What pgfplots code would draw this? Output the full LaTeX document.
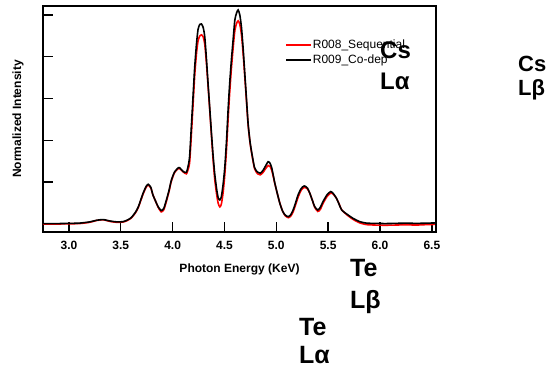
\documentclass[border=0pt]{standalone}
\usepackage{pgfplots}
\pgfplotsset{compat=1.18}
\usepackage{fontspec}
\setmainfont{Liberation Sans}
\pgfplotstableread{
x y
2.75 0.002
2.9 0.002
3.0 0.003
3.1 0.004
3.2 0.010
3.27 0.018
3.33 0.021
3.4 0.014
3.46 0.010
3.52 0.011
3.56 0.018
3.60 0.030
3.64 0.055
3.67 0.083
3.715 0.147
3.745 0.180
3.765 0.190
3.79 0.175
3.81 0.139
3.835 0.110
3.86 0.083
3.89 0.064
3.915 0.075
3.94 0.115
3.965 0.160
3.988 0.210
4.02 0.250
4.062 0.270
4.1 0.252
4.133 0.247
4.155 0.290
4.165 0.330
4.18 0.460
4.197 0.610
4.213 0.750
4.23 0.860
4.245 0.930
4.262 0.955
4.278 0.957
4.295 0.940
4.31 0.895
4.326 0.790
4.342 0.670
4.36 0.540
4.375 0.430
4.39 0.330
4.406 0.240
4.425 0.165
4.44 0.125
4.455 0.115
4.47 0.130
4.487 0.190
4.503 0.270
4.52 0.400
4.535 0.545
4.55 0.670
4.567 0.785
4.585 0.890
4.6 0.976
4.617 1.010
4.632 1.024
4.648 1.000
4.664 0.940
4.68 0.840
4.696 0.720
4.712 0.600
4.728 0.480
4.745 0.400
4.76 0.350
4.79 0.270
4.82 0.248
4.845 0.243
4.87 0.255
4.89 0.272
4.921 0.298
4.94 0.290
4.955 0.270
4.97 0.235
4.986 0.195
5.01 0.145
5.034 0.099
5.06 0.062
5.085 0.043
5.115 0.035
5.14 0.045
5.162 0.067
5.185 0.100
5.21 0.139
5.24 0.170
5.27 0.182
5.30 0.172
5.323 0.147
5.35 0.110
5.37 0.083
5.40 0.067
5.425 0.080
5.45 0.107
5.49 0.140
5.525 0.155
5.55 0.145
5.58 0.123
5.605 0.095
5.63 0.067
5.678 0.048
5.74 0.027
5.806 0.011
5.87 0.004
5.95 0.003
6.05 0.002
6.15 0.003
6.25 0.004
6.35 0.003
6.45 0.004
6.53 0.005
}\blackdata
\pgfplotstableread{
x y
2.75 0.000
2.9 0.000
3.0 0.001
3.1 0.002
3.2 0.008
3.27 0.017
3.33 0.020
3.4 0.012
3.46 0.008
3.52 0.009
3.56 0.016
3.60 0.028
3.64 0.052
3.67 0.080
3.715 0.143
3.745 0.176
3.765 0.186
3.79 0.172
3.81 0.139
3.835 0.110
3.86 0.080
3.89 0.058
3.915 0.068
3.94 0.108
3.965 0.155
3.988 0.205
4.02 0.247
4.062 0.267
4.1 0.250
4.133 0.240
4.155 0.270
4.165 0.300
4.18 0.420
4.197 0.570
4.213 0.710
4.23 0.815
4.245 0.875
4.262 0.900
4.278 0.905
4.295 0.895
4.31 0.860
4.326 0.770
4.342 0.660
4.36 0.530
4.375 0.420
4.39 0.310
4.406 0.215
4.425 0.140
4.44 0.098
4.455 0.082
4.47 0.095
4.487 0.150
4.503 0.235
4.52 0.360
4.535 0.500
4.55 0.625
4.567 0.745
4.585 0.850
4.6 0.925
4.617 0.960
4.632 0.972
4.648 0.955
4.664 0.905
4.68 0.815
4.696 0.705
4.712 0.590
4.728 0.475
4.745 0.395
4.76 0.345
4.79 0.265
4.82 0.240
4.845 0.235
4.87 0.245
4.89 0.260
4.921 0.280
4.94 0.275
4.955 0.258
4.97 0.228
4.986 0.192
5.01 0.145
5.034 0.100
5.06 0.062
5.085 0.040
5.115 0.030
5.14 0.038
5.162 0.058
5.185 0.090
5.21 0.128
5.24 0.162
5.27 0.175
5.30 0.168
5.323 0.147
5.35 0.110
5.37 0.080
5.40 0.060
5.425 0.070
5.45 0.098
5.49 0.132
5.525 0.148
5.55 0.142
5.58 0.123
5.605 0.097
5.63 0.068
5.678 0.045
5.74 0.022
5.806 0.005
5.87 -0.003
5.95 -0.005
6.05 -0.006
6.15 -0.005
6.25 -0.004
6.35 -0.005
6.45 -0.003
6.53 -0.002
}\reddata
\begin{document}
\begin{tikzpicture}
\begin{axis}[
  scale only axis,
  width=393pt, height=226pt,
  xmin=2.75, xmax=6.54,
  ymin=-0.0383, ymax=1.043,
  clip=false,
  axis line style={line width=1.6pt},
  xtick={3.0,3.5,4.0,4.5,5.0,5.5,6.0,6.5},
  ytick={0,0.2,0.4,0.6,0.8,1.0},
  yticklabels={},
  xtick pos=bottom, ytick pos=left,
  tick align=inside,
  major tick length=10pt,
  tick style={line width=1.4pt, black},
  /pgf/number format/assume math mode=true,
  xticklabel={\pgfmathprintnumber[fixed,fixed zerofill,precision=1]{\tick}},
  xticklabel style={font=\bfseries\fontsize{12}{13}\selectfont, yshift=-6pt},
  xlabel={Photon Energy (KeV)},
  ylabel={Normalized Intensity},
  xlabel style={font=\bfseries\fontsize{12}{14}\selectfont, yshift=-7pt},
  ylabel style={font=\bfseries\fontsize{12}{14}\selectfont, yshift=9pt},
  legend style={draw=none, fill=none, at={(0.616,0.855)}, anchor=north west,
    font=\fontsize{12}{13}\selectfont, row sep=2.5pt, inner sep=0pt,
    nodes={inner sep=1pt}},
  legend cell align=left,
  legend image code/.code={\draw[#1] (0pt,0pt) -- (25pt,0pt);},
]
\addplot[red, line width=1.6pt, smooth, tension=0.4] table {\reddata};
\addlegendentry{R008\_Sequential}
\addplot[black, line width=1.6pt, smooth, tension=0.4] table {\blackdata};
\addlegendentry{R009\_Co-dep}
\path (rel axis cs:-0.1094,-0.6018) rectangle (rel axis cs:1.2926,1.0265);
\node[anchor=base west, inner sep=0pt, font=\bfseries\fontsize{24}{30}\selectfont] at (rel axis cs:0.8575,0.7655) {Cs};
\node[anchor=base west, inner sep=0pt, font=\bfseries\fontsize{24}{30}\selectfont] at (rel axis cs:0.8575,0.6283) {Lα};
\node[anchor=base west, inner sep=0pt, font=\bfseries\fontsize{22}{30}\selectfont] at (rel axis cs:1.2087,0.708) {Cs};
\node[anchor=base west, inner sep=0pt, font=\bfseries\fontsize{22}{30}\selectfont] at (rel axis cs:1.2087,0.606) {Lβ};
\node[anchor=base west, inner sep=0pt, font=\bfseries\fontsize{25}{30}\selectfont] at (rel axis cs:0.7812,-0.1991) {Te};
\node[anchor=base west, inner sep=0pt, font=\bfseries\fontsize{25}{30}\selectfont] at (rel axis cs:0.7812,-0.3363) {Lβ};
\node[anchor=base west, inner sep=0pt, font=\bfseries\fontsize{25}{30}\selectfont] at (rel axis cs:0.6514,-0.4558) {Te};
\node[anchor=base west, inner sep=0pt, text depth=0pt, font=\bfseries\fontsize{25}{30}\selectfont] at (rel axis cs:0.6514,-0.5820) {Lα};
\end{axis}
\end{tikzpicture}
\end{document}
